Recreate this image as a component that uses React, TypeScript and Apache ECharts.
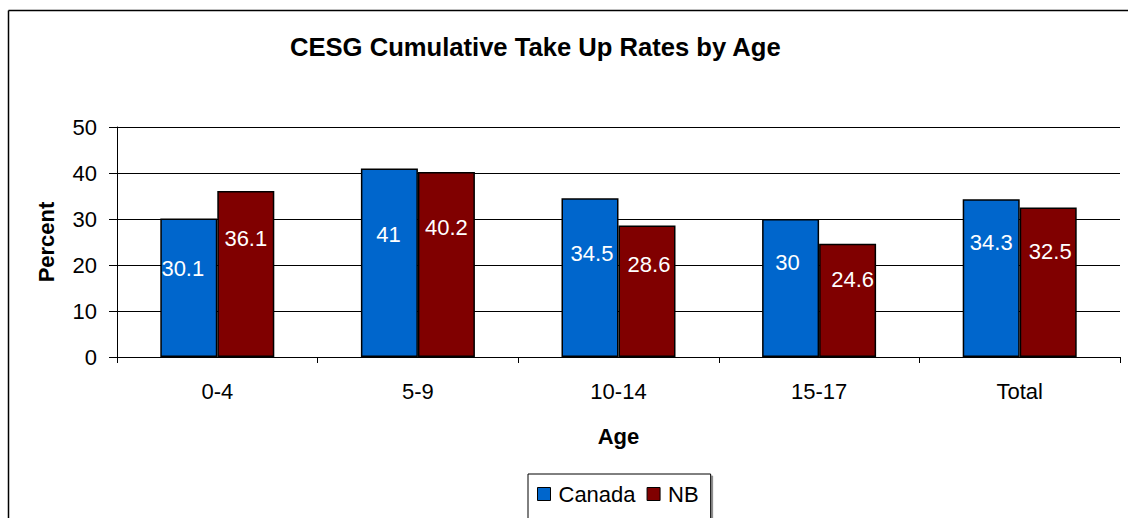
import React, { useEffect, useRef } from "react";
import * as echarts from "echarts";

const categories = ["0-4", "5-9", "10-14", "15-17", "Total"];
const canadaValues = [30.1, 41, 34.5, 30, 34.3];
const nbValues = [36.1, 40.2, 28.6, 24.6, 32.5];
const seriesNames = ["Canada", "NB"];
const yTicks = { min: 0, max: 50, interval: 10 };

// label placement inside bars: [dx, distance of label centre below bar top] in px
const canadaLabelPlace = [[-6, 50], [-1, 66], [2, 55], [-3, 43], [0, 43]];
const nbLabelPlace = [[0, 48], [0, 55], [2, 39], [5, 36], [2, 44]];

const FONT = "'Liberation Sans', Arial, Helvetica, sans-serif";
const FS = 22;

function withLabels(values: number[], place: number[][]) {
  return values.map((v, i) => ({
    value: v,
    label: { offset: [place[i][0], place[i][1] - 16] },
  }));
}

export default function App() {
  const ref = useRef<HTMLDivElement>(null);
  useEffect(() => {
    if (!ref.current) return;
    const chart = echarts.init(ref.current, null, { renderer: "svg" });
    const barLabel = {
      show: true,
      position: "insideTop",
      distance: 5,
      color: "#ffffff",
      fontSize: FS,
      fontFamily: FONT,
      lineHeight: FS,
    };
    chart.setOption({
      animation: false,
      backgroundColor: "#ffffff",
      title: {
        text: "CESG Cumulative Take Up Rates by Age",
        left: 285,
        top: 29,
        textStyle: { fontSize: 25.6, fontWeight: "bold", fontFamily: FONT, color: "#000" },
      },
      graphic: [
        {
          type: "line",
          shape: { x1: 8.5, y1: 10.5, x2: 1128, y2: 10.5 },
          style: { stroke: "#000", lineWidth: 1.5 },
          silent: true,
        },
        {
          type: "line",
          shape: { x1: 8.5, y1: 10.5, x2: 8.5, y2: 518 },
          style: { stroke: "#000", lineWidth: 1.5 },
          silent: true,
        },
      ],
      legend: {
        left: 528,
        top: 474,
        orient: "horizontal",
        data: seriesNames,
        itemWidth: 13,
        itemHeight: 13,
        itemGap: 11,
        padding: [9, 12, 30, 9],
        borderColor: "#000",
        borderWidth: 1,
        backgroundColor: "#fff",
        shadowColor: "#888",
        shadowOffsetX: 2,
        shadowOffsetY: 2,
        shadowBlur: 0,
        icon: "rect",
        itemStyle: { borderColor: "#000", borderWidth: 1 },
        textStyle: { fontSize: FS, fontFamily: FONT, color: "#000", padding: [0, 0, 0, 3] },
      },
      grid: { left: 117, top: 127, right: 8, bottom: 161, containLabel: false },
      xAxis: {
        type: "category",
        data: categories,
        name: "Age",
        nameLocation: "middle",
        nameGap: 68,
        nameTextStyle: { fontSize: FS, fontWeight: "bold", fontFamily: FONT, color: "#000", verticalAlign: "top" },
        axisLine: { lineStyle: { color: "#000", width: 1 } },
        axisTick: { show: true, inside: false, length: 6, alignWithLabel: false, lineStyle: { color: "#000" } },
        axisLabel: { fontSize: FS, fontFamily: FONT, color: "#000", margin: 23 },
        splitLine: { show: false },
      },
      yAxis: {
        type: "value",
        min: yTicks.min,
        max: yTicks.max,
        interval: yTicks.interval,
        name: "Percent",
        nameLocation: "middle",
        nameGap: 60,
        nameTextStyle: { fontSize: FS, fontWeight: "bold", fontFamily: FONT, color: "#000" },
        axisLine: { show: true, lineStyle: { color: "#000", width: 1 } },
        axisTick: { show: true, inside: false, length: 8, lineStyle: { color: "#000" } },
        axisLabel: { fontSize: FS, fontFamily: FONT, color: "#000", margin: 20 },
        splitLine: { show: true, lineStyle: { color: "#000", width: 1 } },
      },
      series: [
        {
          name: seriesNames[0],
          type: "bar",
          barWidth: 57,
          barGap: "0%",
          data: withLabels(canadaValues, canadaLabelPlace),
          itemStyle: { color: "#0066CC", borderColor: "#000", borderWidth: 1.5 },
          label: barLabel,
        },
        {
          name: seriesNames[1],
          type: "bar",
          barWidth: 57,
          barGap: "0%",
          data: withLabels(nbValues, nbLabelPlace),
          itemStyle: { color: "#800000", borderColor: "#000", borderWidth: 1.5 },
          label: barLabel,
        },
      ],
    });
    return () => chart.dispose();
  }, []);
  return (
    <div
      ref={ref}
      style={{ position: "absolute", left: 0, top: 0, width: 1128, height: 518 }}
    />
  );
}
